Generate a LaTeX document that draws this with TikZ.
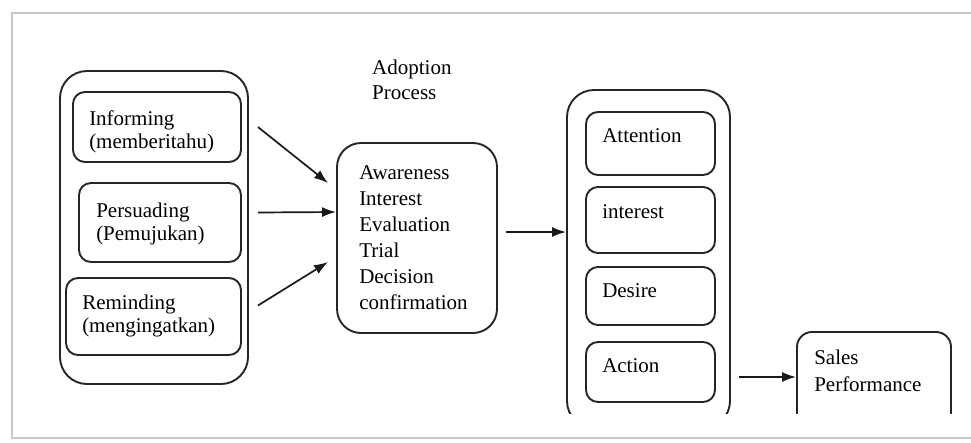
\documentclass[tikz,border=0pt]{standalone}
\usepackage{fontspec}
\setmainfont{Liberation Serif}
\usetikzlibrary{arrows.meta,calc}
\begin{document}
\begin{tikzpicture}[x=1pt,y=-1pt,
  box/.style={draw=black!85, line width=1.9pt, rounded corners=12pt, inner sep=0pt},
  grp/.style={draw=black!85, line width=1.9pt, rounded corners=27pt, inner sep=0pt},
  txt/.style={font=\fontsize{21}{23}\selectfont, align=left, inner sep=0pt, anchor=west},
  arr/.style={-{Latex[length=14pt,width=10pt]}, line width=1.7pt, draw=black!90}]
\useasboundingbox (0,0) rectangle (971,442);
\fill[white] (0,0) rectangle (971,442);
\begin{scope}
  \clip (0,0) rectangle (971,442);
  \draw[black!22, line width=2pt] (12,13) rectangle (990,438);
\end{scope}

% left group
\node[grp, minimum width=188pt, minimum height=313pt] (leftgrp) at (154,227.5) {};
\node[box, minimum width=168pt, minimum height=70pt] (inform) at (157,127) {};
\node[box, minimum width=162pt, minimum height=79pt] (persu) at (160,222.5) {};
\node[box, minimum width=175pt, minimum height=77pt] (remind) at (153.5,316.5) {};
\node[txt] (informt) at ($(inform.west)+(17,5)$) {Informing\\(memberitahu)};
\node[txt] (persut) at ($(persu.west)+(18,1)$) {Persuading\\(Pemujukan)};
\node[txt] (remindt) at ($(remind.west)+(17,-1)$) {Reminding\\(mengingatkan)};

% adoption
\node[txt, font=\fontsize{21}{25}\selectfont] (adopt) at (372,79.5) {Adoption\\Process};
\node[box, rounded corners=24pt, minimum width=160pt, minimum height=190pt] (center) at (417,238) {};
\node[txt, font=\fontsize{21}{26}\selectfont] (centert) at ($(center.west)+(23,0)$) {Awareness\\Interest\\Evaluation\\Trial\\Decision\\confirmation};

% right group (cut at bottom)
\begin{scope}
  \clip (0,0) rectangle (971,413);
  \node[grp, minimum width=163pt, minimum height=338pt] (rightgrp) at (648.5,259) {};
  \node[box, rounded corners=15pt, minimum width=154pt, minimum height=100pt] (sales) at (874,382) {};
\end{scope}
\node[box, minimum width=129pt, minimum height=63pt] (att) at (650.5,143.5) {};
\node[box, minimum width=129pt, minimum height=66pt] (int) at (650.5,220) {};
\node[box, minimum width=129pt, minimum height=58pt] (des) at (650.5,296) {};
\node[box, minimum width=129pt, minimum height=60pt] (act) at (650.5,372) {};
\node[txt] (attt) at ($(att.north west)+(17,25)$) {Attention};
\node[txt] (intt) at ($(int.north west)+(17,26)$) {interest};
\node[txt] (dest) at ($(des.north west)+(17,25)$) {Desire};
\node[txt] (actt) at ($(act.north west)+(17,25)$) {Action};
\node[txt, font=\fontsize{21}{27}\selectfont] (salest) at ($(sales.north west)+(18,39.5)$) {Sales\\Performance};

% connectors
\draw[arr] ($(inform.east)+(16,0)$) -- ($(center.west)+(-8,-55)$);
\draw[arr] ($(persu.east)+(16,-10)$) -- ($(center.west)+(0,-26)$);
\draw[arr] ($(remind.east)+(16,-11)$) -- ($(center.west)+(-8,24)$);
\draw[arr] ($(center.east)+(8,-6)$) -- ($(center.east -| rightgrp.west)+(0,-6)$);
\draw[arr] ($(act.east)+(23,5)$) -- ($(act.east -| sales.west)+(0,5)$);
\end{tikzpicture}
\end{document}
